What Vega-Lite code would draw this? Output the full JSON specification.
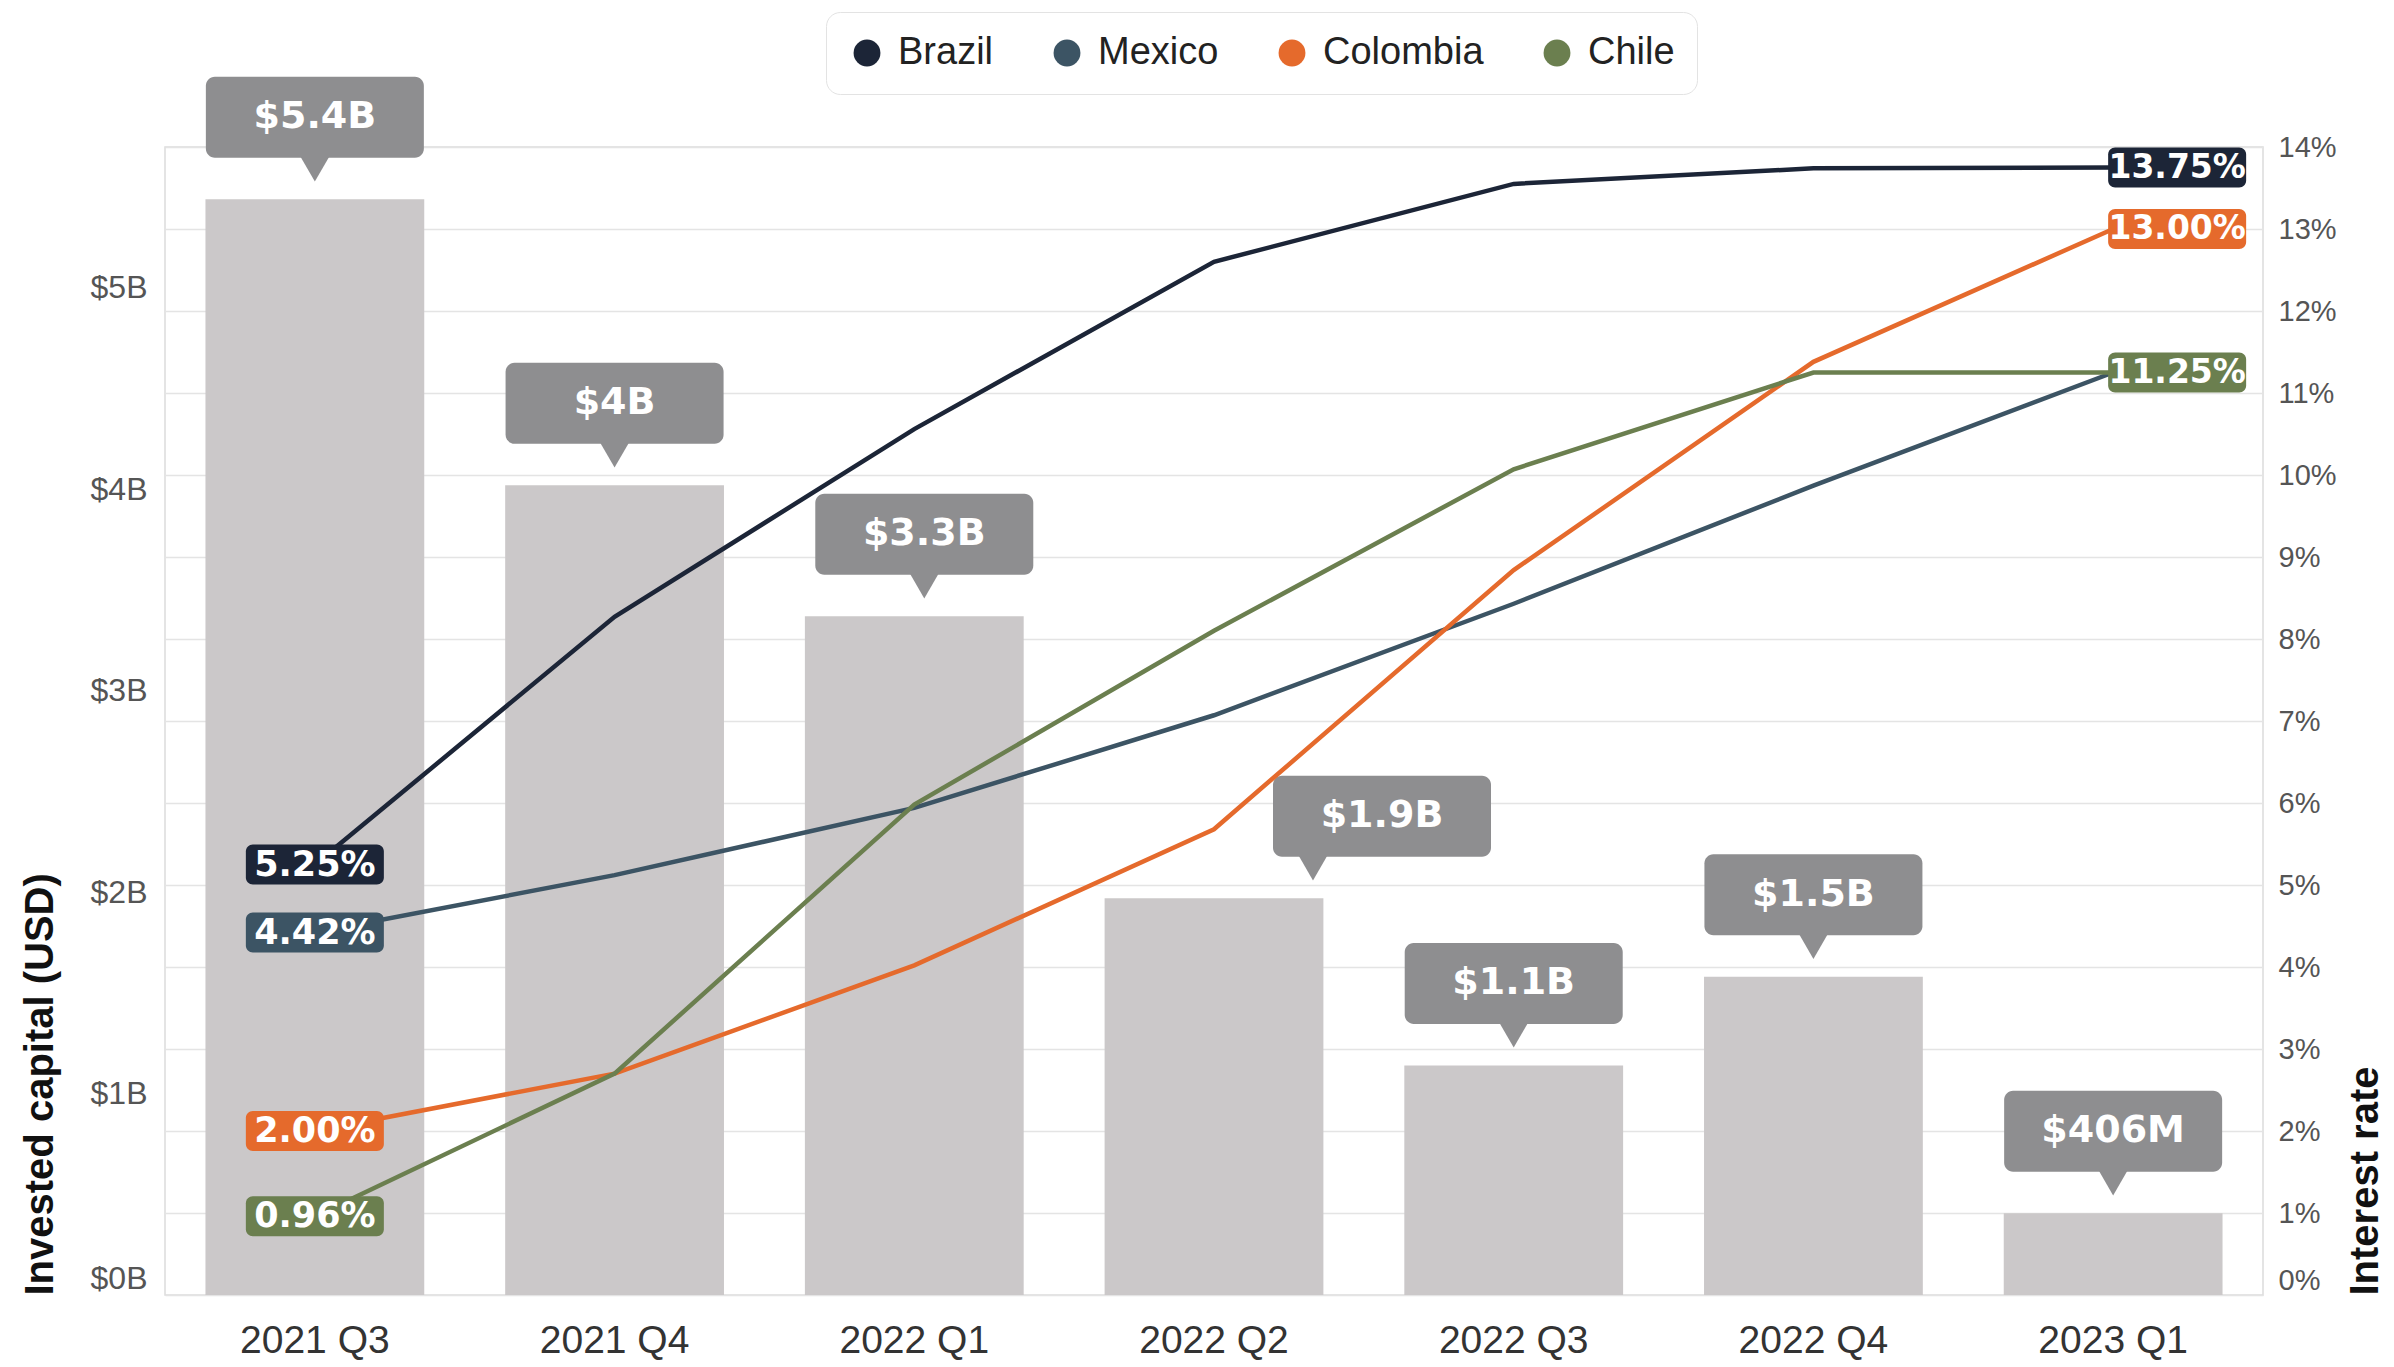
{
  "$schema": "https://vega.github.io/schema/vega-lite/v6.json",
  "width": 2098,
  "height": 1148,
  "autosize": {"type": "none"},
  "padding": {"left": 165, "top": 147, "right": 131, "bottom": 72},
  "background": "white",
  "config": {
    "view": {"stroke": "#dcdcdc", "strokeWidth": 1.5},
    "font": "Liberation Sans"
  },
  "datasets": {
    "capital": [
      {"quarter": "2021 Q3", "capital": 5440000000, "label": "$5.4B"},
      {"quarter": "2021 Q4", "capital": 4020000000, "label": "$4B"},
      {"quarter": "2022 Q1", "capital": 3370000000, "label": "$3.3B"},
      {"quarter": "2022 Q2", "capital": 1970000000, "label": "$1.9B"},
      {"quarter": "2022 Q3", "capital": 1140000000, "label": "$1.1B"},
      {"quarter": "2022 Q4", "capital": 1580000000, "label": "$1.5B"},
      {"quarter": "2023 Q1", "capital": 406000000, "label": "$406M"}
    ],
    "rates": [
      {"quarter": "2021 Q3", "country": "Brazil", "rate": 5.25},
      {"quarter": "2021 Q4", "country": "Brazil", "rate": 8.27},
      {"quarter": "2022 Q1", "country": "Brazil", "rate": 10.56},
      {"quarter": "2022 Q2", "country": "Brazil", "rate": 12.6},
      {"quarter": "2022 Q3", "country": "Brazil", "rate": 13.55},
      {"quarter": "2022 Q4", "country": "Brazil", "rate": 13.74},
      {"quarter": "2023 Q1", "country": "Brazil", "rate": 13.75},
      {"quarter": "2021 Q3", "country": "Mexico", "rate": 4.42},
      {"quarter": "2021 Q4", "country": "Mexico", "rate": 5.12},
      {"quarter": "2022 Q1", "country": "Mexico", "rate": 5.94},
      {"quarter": "2022 Q2", "country": "Mexico", "rate": 7.07},
      {"quarter": "2022 Q3", "country": "Mexico", "rate": 8.43},
      {"quarter": "2022 Q4", "country": "Mexico", "rate": 9.87},
      {"quarter": "2023 Q1", "country": "Mexico", "rate": 11.25},
      {"quarter": "2021 Q3", "country": "Colombia", "rate": 2.0},
      {"quarter": "2021 Q4", "country": "Colombia", "rate": 2.7},
      {"quarter": "2022 Q1", "country": "Colombia", "rate": 4.02},
      {"quarter": "2022 Q2", "country": "Colombia", "rate": 5.68},
      {"quarter": "2022 Q3", "country": "Colombia", "rate": 8.84},
      {"quarter": "2022 Q4", "country": "Colombia", "rate": 11.38},
      {"quarter": "2023 Q1", "country": "Colombia", "rate": 13.0},
      {"quarter": "2021 Q3", "country": "Chile", "rate": 0.96},
      {"quarter": "2021 Q4", "country": "Chile", "rate": 2.7},
      {"quarter": "2022 Q1", "country": "Chile", "rate": 5.98},
      {"quarter": "2022 Q2", "country": "Chile", "rate": 8.1},
      {"quarter": "2022 Q3", "country": "Chile", "rate": 10.07},
      {"quarter": "2022 Q4", "country": "Chile", "rate": 11.25},
      {"quarter": "2023 Q1", "country": "Chile", "rate": 11.25}
    ],
    "ratelabels": [
      {"quarter": "2021 Q3", "country": "Brazil", "rate": 5.25, "text": "5.25%", "pos": "start"},
      {"quarter": "2021 Q3", "country": "Mexico", "rate": 4.42, "text": "4.42%", "pos": "start"},
      {"quarter": "2021 Q3", "country": "Colombia", "rate": 2.0, "text": "2.00%", "pos": "start"},
      {"quarter": "2021 Q3", "country": "Chile", "rate": 0.96, "text": "0.96%", "pos": "start"},
      {"quarter": "2023 Q1", "country": "Brazil", "rate": 13.75, "text": "13.75%", "pos": "end"},
      {"quarter": "2023 Q1", "country": "Colombia", "rate": 13.0, "text": "13.00%", "pos": "end"},
      {"quarter": "2023 Q1", "country": "Chile", "rate": 11.25, "text": "11.25%", "pos": "end"}
    ]
  },
  "encoding": {
    "x": {
      "field": "quarter",
      "type": "ordinal",
      "sort": null,
      "scale": {"paddingInner": 0.27, "paddingOuter": 0.135},
      "axis": {
        "title": null,
        "labelAngle": 0,
        "labelFontSize": 39,
        "labelFont": "Liberation Sans",
        "labelColor": "#333333",
        "ticks": false,
        "domain": false,
        "grid": false,
        "labelPadding": 26
      }
    }
  },
  "layer": [
    {
      "data": {"name": "capital"},
      "encoding": {
        "y": {
          "field": "capital",
          "type": "quantitative",
          "scale": {"domain": [0, 5700000000], "nice": false},
          "axis": {
            "orient": "left",
            "values": [0, 1000000000, 2000000000, 3000000000, 4000000000, 5000000000],
            "labelExpr": "'$' + format(datum.value / 1000000000, 'd') + 'B'",
            "grid": false,
            "ticks": false,
            "domain": false,
            "labelFontSize": 32,
            "labelFont": "Liberation Sans",
            "labelColor": "#555555",
            "labelPadding": 18,
            "labelBaseline": {"condition": {"test": "datum.value === 0", "value": "bottom"}, "value": "middle"},
            "title": "Invested capital (USD)",
            "titleFont": "Liberation Sans",
            "titleFontSize": 40,
            "titleFontWeight": "bold",
            "titleColor": "#111111",
            "titleAnchor": "start",
            "titlePadding": 30
          }
        }
      },
      "layer": [
        {"mark": {"type": "bar", "color": "#cbc8c9"}},
        {
          "transform": [{"filter": "datum.quarter !== '2022 Q1' && datum.quarter !== '2022 Q2'"}],
          "mark": {"type": "point", "shape": "triangle-down", "filled": true, "color": "#8e8e90", "opacity": 1, "size": 1400, "yOffset": -34}
        },
        {
          "transform": [{"filter": "datum.quarter === '2022 Q1'"}],
          "mark": {"type": "point", "shape": "triangle-down", "filled": true, "color": "#8e8e90", "opacity": 1, "size": 1400, "yOffset": -34, "xOffset": 10}
        },
        {
          "transform": [{"filter": "datum.quarter === '2022 Q2'"}],
          "mark": {"type": "point", "shape": "triangle-down", "filled": true, "color": "#8e8e90", "opacity": 1, "size": 1400, "yOffset": -34, "xOffset": 99}
        },
        {
          "transform": [{"filter": "datum.quarter !== '2022 Q1' && datum.quarter !== '2022 Q2'"}],
          "mark": {"type": "tick", "color": "#8e8e90", "opacity": 1, "thickness": 81, "size": 218, "yOffset": -82, "cornerRadius": 9}
        },
        {
          "transform": [{"filter": "datum.quarter === '2022 Q1'"}],
          "mark": {"type": "tick", "color": "#8e8e90", "opacity": 1, "thickness": 81, "size": 218, "yOffset": -82, "xOffset": 10, "cornerRadius": 9}
        },
        {
          "transform": [{"filter": "datum.quarter === '2022 Q2'"}],
          "mark": {"type": "tick", "color": "#8e8e90", "opacity": 1, "thickness": 81, "size": 218, "yOffset": -82, "xOffset": 168, "cornerRadius": 9}
        },
        {
          "transform": [{"filter": "datum.quarter !== '2022 Q1' && datum.quarter !== '2022 Q2'"}],
          "mark": {"type": "text", "color": "white", "font": "DejaVu Sans", "fontWeight": "bold", "fontSize": 38, "baseline": "middle", "yOffset": -82},
          "encoding": {"text": {"field": "label"}}
        },
        {
          "transform": [{"filter": "datum.quarter === '2022 Q1'"}],
          "mark": {"type": "text", "color": "white", "font": "DejaVu Sans", "fontWeight": "bold", "fontSize": 38, "baseline": "middle", "yOffset": -82, "xOffset": 10},
          "encoding": {"text": {"field": "label"}}
        },
        {
          "transform": [{"filter": "datum.quarter === '2022 Q2'"}],
          "mark": {"type": "text", "color": "white", "font": "DejaVu Sans", "fontWeight": "bold", "fontSize": 38, "baseline": "middle", "yOffset": -82, "xOffset": 168},
          "encoding": {"text": {"field": "label"}}
        }
      ]
    },
    {
      "encoding": {
        "y": {
          "field": "rate",
          "type": "quantitative",
          "scale": {"domain": [0, 14], "nice": false},
          "axis": {
            "orient": "right",
            "values": [0, 1, 2, 3, 4, 5, 6, 7, 8, 9, 10, 11, 12, 13, 14],
            "labelExpr": "datum.value + '%'",
            "grid": true,
            "gridColor": "#e4e4e4",
            "gridWidth": 1.5,
            "ticks": false,
            "domain": false,
            "labelFontSize": 29,
            "labelFont": "Liberation Sans",
            "labelColor": "#555555",
            "labelPadding": 15,
            "labelBaseline": {"condition": {"test": "datum.value === 0", "value": "bottom"}, "value": "middle"},
            "title": "Interest rate",
            "titleFont": "Liberation Sans",
            "titleFontSize": 40,
            "titleFontWeight": "bold",
            "titleColor": "#111111",
            "titleAngle": 270,
            "titleAnchor": "start",
            "titlePadding": 49
          }
        },
        "color": {
          "field": "country",
          "type": "nominal",
          "scale": {
            "domain": ["Brazil", "Mexico", "Colombia", "Chile"],
            "range": ["#1c2537", "#3c5464", "#e56a2c", "#6b7f4f"]
          },
          "legend": {
            "orient": "none",
            "legendX": 661,
            "legendY": -135,
            "direction": "horizontal",
            "title": null,
            "symbolType": "circle",
            "symbolSize": 720,
            "symbolStrokeWidth": 0,
            "labelFontSize": 38,
            "labelFont": "Liberation Sans",
            "labelColor": "#222222",
            "labelLimit": 400,
            "labelOffset": 12,
            "columnPadding": 54,
            "padding": 22,
            "fillColor": "white",
            "strokeColor": "#e3e3e3",
            "cornerRadius": 14,
            "encode": {
              "symbols": {"update": {"fill": {"scale": "color", "field": "value"}, "opacity": {"value": 1}, "fillOpacity": {"value": 1}}}
            }
          }
        }
      },
      "layer": [
        {
          "data": {"name": "rates"},
          "mark": {"type": "line", "strokeWidth": 4.5}
        },
        {
          "data": {"name": "ratelabels"},
          "transform": [{"filter": "datum.pos === 'start'"}],
          "mark": {"type": "tick", "thickness": 40, "size": 138, "cornerRadius": 7, "opacity": 1}
        },
        {
          "data": {"name": "ratelabels"},
          "transform": [{"filter": "datum.pos === 'start'"}],
          "mark": {"type": "text", "color": "white", "font": "DejaVu Sans", "fontWeight": "bold", "fontSize": 35, "baseline": "middle"},
          "encoding": {"text": {"field": "text"}, "color": {"value": "white"}}
        },
        {
          "data": {"name": "ratelabels"},
          "transform": [{"filter": "datum.pos === 'end'"}],
          "mark": {"type": "tick", "thickness": 40, "size": 138, "cornerRadius": 7, "opacity": 1, "xOffset": 64}
        },
        {
          "data": {"name": "ratelabels"},
          "transform": [{"filter": "datum.pos === 'end'"}],
          "mark": {"type": "text", "color": "white", "font": "DejaVu Sans", "fontWeight": "bold", "fontSize": 33, "baseline": "middle", "xOffset": 64},
          "encoding": {"text": {"field": "text"}, "color": {"value": "white"}}
        }
      ]
    }
  ],
  "resolve": {"scale": {"y": "independent"}}
}
